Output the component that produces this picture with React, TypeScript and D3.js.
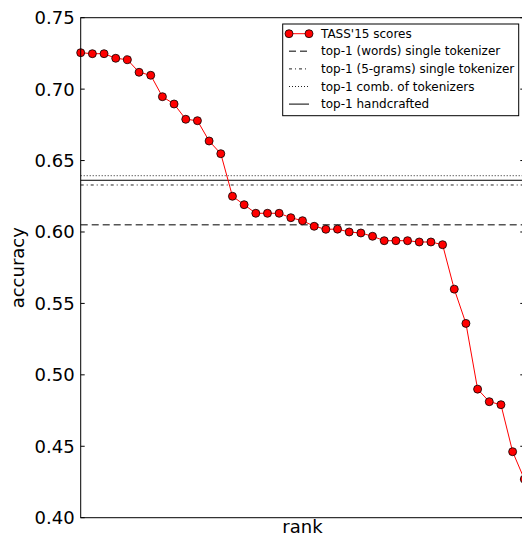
import React from 'react';
import * as d3 from 'd3';

// TASS'15 scores, ordered by rank
const scores = [
  0.7255, 0.7248, 0.7248, 0.7216, 0.7206, 0.7118, 0.7097, 0.6947, 0.6896, 0.6789,
  0.6779, 0.6637, 0.6548, 0.625, 0.6191, 0.6131, 0.6131, 0.6131, 0.610, 0.6079,
  0.604, 0.6019, 0.602, 0.600, 0.5993, 0.597, 0.5939, 0.5939, 0.5939, 0.593,
  0.593, 0.5911, 0.560, 0.536, 0.490, 0.4812, 0.4791, 0.4462, 0.427,
];

const refLabels = [
  'top-1 (words) single tokenizer',
  'top-1 (5-grams) single tokenizer',
  'top-1 comb. of tokenizers',
  'top-1 handcrafted',
];
const refValues = [0.6051, 0.6329, 0.6394, 0.6362];
const refDash = ['7,4', '3,3,1,3', '1,2', null];
const refColor = ['#555', '#222', '#222', '#000'];

const yTicks = [0.4, 0.45, 0.5, 0.55, 0.6, 0.65, 0.7, 0.75];

const FONT = 'DejaVu Sans, sans-serif';

export default function App() {
  const W = 522;
  const H = 538;
  const margin = { left: 80.7, top: 17.7, right: 524.3, bottom: 517.7 };

  const x = d3.scaleLinear().domain([0, scores.length - 1]).range([margin.left, margin.right]);
  const y = d3.scaleLinear().domain([0.4, 0.75]).range([margin.bottom, margin.top]);

  const line = d3.line<number>()
    .x((_, i) => x(i))
    .y(d => y(d));

  const legend = { x: 282.7, y: 24, w: 236, h: 91.7, rowH: 17.6, first: 33.7 };

  return (
    <svg width={W} height={H} style={{ position: 'absolute', left: 0, top: 0, background: '#fff' }}
      fontFamily={FONT}>
      <rect x={0} y={0} width={W} height={H} fill="#fff" />

      {/* reference lines */}
      {refValues.map((v, i) => (
        <line key={i} x1={margin.left} x2={margin.right} y1={y(v)} y2={y(v)}
          stroke={refColor[i]} strokeWidth={i === 0 ? 1.5 : 1}
          strokeDasharray={refDash[i] || undefined} />
      ))}

      {/* scores */}
      <path d={line(scores) || ''} fill="none" stroke="#ff0000" strokeWidth={1} />
      {scores.map((v, i) => (
        <circle key={i} cx={x(i)} cy={y(v)} r={4} fill="#ff0000" stroke="#000" strokeWidth={0.8} />
      ))}

      {/* frame */}
      <rect x={margin.left} y={margin.top} width={margin.right - margin.left}
        height={margin.bottom - margin.top} fill="none" stroke="#000" strokeWidth={1} />

      {/* y ticks */}
      {yTicks.map(t => (
        <g key={t}>
          <line x1={margin.left} x2={margin.left + 4} y1={y(t)} y2={y(t)} stroke="#000" />
          <line x1={margin.right - 4} x2={margin.right} y1={y(t)} y2={y(t)} stroke="#000" />
          <text x={margin.left - 6} y={y(t)} textAnchor="end" dominantBaseline="central"
            fontSize={18} fill="#000">{t.toFixed(2)}</text>
        </g>
      ))}

      {/* axis labels */}
      <text x={(margin.left + margin.right) / 2} y={533} textAnchor="middle" fontSize={18}>rank</text>
      <text transform={`translate(23.5,${(margin.top + margin.bottom) / 2}) rotate(-90)`}
        textAnchor="middle" fontSize={18}>accuracy</text>

      {/* legend */}
      <rect x={legend.x} y={legend.y} width={legend.w} height={legend.h} fill="#fff" stroke="#000" strokeWidth={1} />
      <g>
        <line x1={289} x2={309} y1={legend.first} y2={legend.first} stroke="#ff0000" />
        <circle cx={289} cy={legend.first} r={4} fill="#ff0000" stroke="#000" strokeWidth={0.8} />
        <circle cx={309} cy={legend.first} r={4} fill="#ff0000" stroke="#000" strokeWidth={0.8} />
        <text x={321} y={legend.first} dominantBaseline="central" fontSize={12}>TASS'15 scores</text>
      </g>
      {refLabels.map((lab, i) => {
        const yy = legend.first + legend.rowH * (i + 1);
        return (
          <g key={lab}>
            <line x1={289} x2={309} y1={yy} y2={yy} stroke={refColor[i]} strokeWidth={i === 0 ? 1.5 : 1}
              strokeDasharray={refDash[i] || undefined} />
            <text x={321} y={yy} dominantBaseline="central" fontSize={12}>{lab}</text>
          </g>
        );
      })}
    </svg>
  );
}
